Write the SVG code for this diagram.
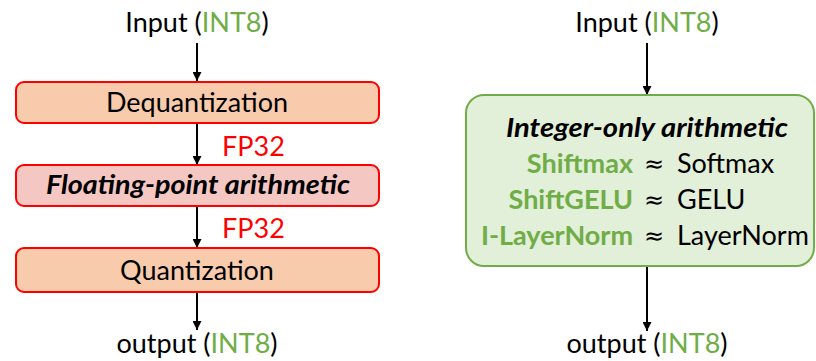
<svg xmlns="http://www.w3.org/2000/svg" width="816" height="361" viewBox="0 0 816 361">
<defs>
<marker id="ah" viewBox="0 0 10 10" refX="10" refY="5" markerWidth="10" markerHeight="9" markerUnits="userSpaceOnUse" orient="auto">
<path d="M0,0 L10,5 L0,10 z" fill="#000"/>
</marker>
<style>
text{font-family:Lato,"Open Sans","Liberation Sans",sans-serif;font-size:27px;fill:#000}
.c{text-anchor:middle}
.g{fill:#70ad47}
.r{fill:#ff0000}
.bi{font-weight:bold;font-style:italic}
.b{font-weight:bold}
.e{text-anchor:end}
.ap{font-family:"DejaVu Sans",sans-serif;font-size:24px;text-anchor:middle}
.box{fill:#f8cbad;stroke:#ff0000;stroke-width:2}
.conn line{stroke:#000;stroke-width:2;marker-end:url(#ah)}
</style>
</defs>
<rect width="816" height="361" fill="#fff"/>
<g class="conn" id="connectors">
<line x1="197" y1="43" x2="197" y2="81"/>
<line x1="197" y1="124" x2="197" y2="165"/>
<line x1="197" y1="207" x2="197" y2="248"/>
<line x1="197" y1="293" x2="197" y2="330"/>
<line x1="647" y1="43" x2="647" y2="95"/>
<line x1="647" y1="266" x2="647" y2="331"/>
</g>
<g id="fp32-labels">
<text class="r" x="222" y="156">FP32</text>
<text class="r" x="222" y="238">FP32</text>
</g>
<g id="left-input"><text class="c" x="197" y="32">Input (<tspan class="g">INT8</tspan>)</text></g>
<g id="dequant"><rect class="box" x="16" y="82" width="363" height="41" rx="8"/><text class="c" x="197" y="112">Dequantization</text></g>
<g id="fparith"><rect class="box" x="16" y="165" width="363" height="41" rx="8" style="fill:#f4c7c3"/><text class="bi" x="46" y="194" textLength="304" lengthAdjust="spacingAndGlyphs">Floating-point arithmetic</text></g>
<g id="quant"><rect class="box" x="16" y="248" width="363" height="44" rx="8"/><text class="c" x="197" y="280">Quantization</text></g>
<g id="left-output"><text class="c" x="197" y="353">output (<tspan class="g">INT8</tspan>)</text></g>
<g id="right-input"><text class="c" x="647" y="32">Input (<tspan class="g">INT8</tspan>)</text></g>
<g id="intarith">
<rect x="466" y="95" width="348" height="171" rx="18" fill="#e2efd9" stroke="#70ad47" stroke-width="2"/>
<text class="bi" x="506" y="137" textLength="282" lengthAdjust="spacingAndGlyphs">Integer-only arithmetic</text>
<text class="g b e" x="633" y="173">Shiftmax</text>
<text class="ap" x="654" y="172">≈</text>
<text x="677" y="173">Softmax</text>
<text class="g b e" x="633" y="209">ShiftGELU</text>
<text class="ap" x="654" y="208">≈</text>
<text x="677" y="209">GELU</text>
<text class="g b e" x="633" y="245">I-LayerNorm</text>
<text class="ap" x="654" y="244">≈</text>
<text x="677" y="245">LayerNorm</text>
</g>
<g id="right-output"><text class="c" x="647" y="353">output (<tspan class="g">INT8</tspan>)</text></g>
</svg>
